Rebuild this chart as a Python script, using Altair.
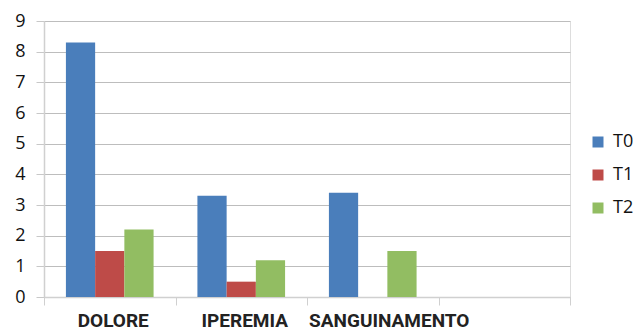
import altair as alt
import pandas as pd

categories = ["DOLORE", "IPEREMIA", "SANGUINAMENTO", " "]
series = ["T0", "T1", "T2"]
t0 = [8.3, 3.3, 3.4]
t1 = [1.5, 0.5, 0.0]
t2 = [2.2, 1.2, 1.5]
colors = ["#4a7ebb", "#be4b48", "#92bd62"]

rows = []
for i, cat in enumerate(categories[:3]):
    for s, vals in zip(series, [t0, t1, t2]):
        rows.append({"cat": cat, "serie": s, "value": vals[i]})
df = pd.DataFrame(rows)

label_offset = alt.condition(
    "datum.value == 'SANGUINAMENTO'", alt.value(16), alt.value(3)
)

chart = alt.Chart(df).mark_bar(stroke=None).encode(
    x=alt.X(
        "cat:N",
        sort=categories,
        scale=alt.Scale(domain=categories, paddingInner=0, paddingOuter=0),
        axis=alt.Axis(
            title=None,
            labelAngle=0,
            tickBand="extent",
            tickSize=8,
            tickColor="#d0d0d0",
            domainColor="#d0d0d0",
            domainWidth=1.5,
            labelFont="Roboto",
            labelFontWeight="bold",
            labelFontSize=19,
            labelColor="#222222",
            labelPadding=6,
            labelOffset=label_offset,
            labelOverlap=False,
            labelLimit=0,
            grid=False,
        ),
    ),
    xOffset=alt.XOffset(
        "serie:N",
        sort=series,
        scale=alt.Scale(domain=series, paddingInner=0, paddingOuter=0.75),
    ),
    y=alt.Y(
        "value:Q",
        scale=alt.Scale(domain=[0, 9], nice=False),
        axis=alt.Axis(
            title=None,
            values=list(range(10)),
            tickSize=8,
            tickColor="#c8c8c8",
            domainColor="#d0d0d0",
            domainWidth=1.5,
            gridColor="#bdbdbd",
            gridWidth=1.2,
            labelFont="Open Sans",
            labelFontSize=18,
            labelColor="#111111",
            labelPadding=11,
        ),
    ),
    color=alt.Color(
        "serie:N",
        sort=series,
        scale=alt.Scale(domain=series, range=colors),
        legend=alt.Legend(
            title=None,
            orient="none",
            legendX=545,
            legendY=112,
            symbolType="square",
            symbolSize=121,
            symbolStrokeWidth=0,
            labelFont="Open Sans",
            labelFontSize=18,
            labelColor="#111111",
            labelOffset=6,
            rowPadding=15,
            padding=0,
        ),
    ),
).properties(
    width=526,
    height=276,
    autosize=alt.AutoSizeParams(type="none"),
    padding={"left": 44, "top": 21, "right": 70, "bottom": 33},
).configure_view(stroke=None).configure(background="white")

chart.save("out.html", embed_options={"renderer": "svg", "actions": False})
